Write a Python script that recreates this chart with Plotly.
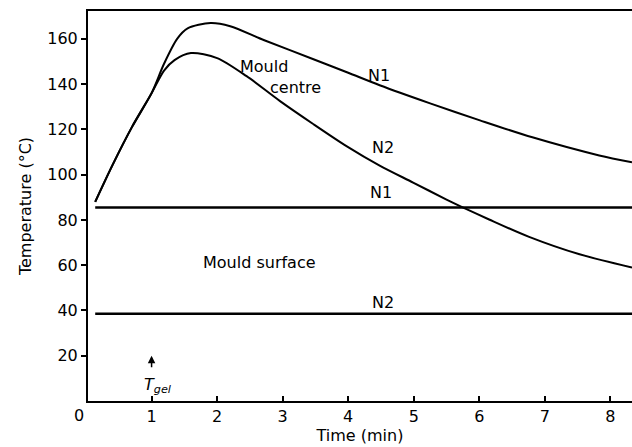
import plotly.graph_objects as go

# Mould centre temperatures
t_n1 = [0.14, 0.4, 0.7, 1.0, 1.19, 1.39, 1.55, 1.9, 2.2, 2.71, 3.47, 4.0, 4.48, 5.25, 6.01, 6.81, 7.83, 8.33]
T_n1 = [88, 104, 121, 136, 149, 160, 164.6, 167, 165.6, 159.5, 151, 145, 139.5, 131.5, 124, 116.5, 108.5, 105.5]

t_n2 = [0.14, 0.4, 0.7, 1.0, 1.19, 1.35, 1.6, 2.0, 2.45, 2.96, 3.46, 3.98, 4.48, 4.99, 5.5, 5.73, 6.15, 6.76, 7.53, 8.33]
T_n2 = [88, 104, 121, 136, 146, 150.6, 153.7, 151.5, 143.5, 132.5, 122.5, 112.5, 104, 96.5, 89, 85.8, 80.2, 72.5, 64.8, 59]

# Mould surface temperatures (constant)
t_surface = [0.14, 8.33]
T_surf_n1 = [85.5, 85.5]
T_surf_n2 = [38.5, 38.5]

x_ticks = [1, 2, 3, 4, 5, 6, 7, 8]
y_ticks = [20, 40, 60, 80, 100, 120, 140, 160]

FONT = "DejaVu Sans"

fig = go.Figure()
fig.add_trace(go.Scatter(x=t_n1, y=T_n1, mode="lines",
                         line=dict(color="black", width=2, shape="spline", smoothing=0.8)))
fig.add_trace(go.Scatter(x=t_n2, y=T_n2, mode="lines",
                         line=dict(color="black", width=2, shape="spline", smoothing=0.8)))
fig.add_trace(go.Scatter(x=t_surface, y=T_surf_n1, mode="lines", line=dict(color="black", width=2.5)))
fig.add_trace(go.Scatter(x=t_surface, y=T_surf_n2, mode="lines", line=dict(color="black", width=2.5)))

def label(text, x, y, **kw):
    fig.add_annotation(text=text, x=x, y=y, showarrow=False,
                       font=dict(family=FONT, size=16, color="black"), **kw)

label("Mould", 2.72, 148)
label("centre", 3.2, 138.7)
label("N1", 4.47, 144)
label("N2", 4.53, 112.2)
label("N1", 4.5, 91.9)
label("Mould surface", 2.65, 61.4)
label("N2", 4.53, 43.3)
label("<i>T</i><sub><i>gel</i></sub>", 1.1, 7.0)
# T_gel arrow
fig.add_annotation(x=1.0, y=20, ax=0, ay=13, text="", showarrow=True,
                   arrowhead=2, arrowsize=1, arrowwidth=1.5, arrowcolor="black")
# origin label
fig.add_annotation(text="0", x=0, y=0, xref="paper", yref="paper", xshift=-9, yshift=-3,
                   xanchor="center", yanchor="top", showarrow=False,
                   font=dict(family=FONT, size=16, color="black"))

fig.update_layout(
    width=632, height=447,
    margin=dict(l=88, r=0, t=11, b=46),
    paper_bgcolor="white", plot_bgcolor="white",
    showlegend=False,
    font=dict(family=FONT, size=16, color="black"),
    xaxis=dict(range=[0.03, 8.33], tickvals=x_ticks, ticks="inside", ticklen=5, tickwidth=1.5,
               tickcolor="black", showline=True, linecolor="black", linewidth=2, mirror=True,
               showgrid=False, zeroline=False,
               title=dict(text="Time (min)", standoff=4, font=dict(size=16))),
    yaxis=dict(range=[0, 172.3], tickvals=y_ticks, ticks="outside", ticklen=5, tickwidth=1.5,
               tickcolor="black", showline=True, linecolor="black", linewidth=2,
               showgrid=False, zeroline=False,
               title=dict(text="Temperature (°C)", standoff=12, font=dict(size=16))),
)

fig.write_html("out.html")
